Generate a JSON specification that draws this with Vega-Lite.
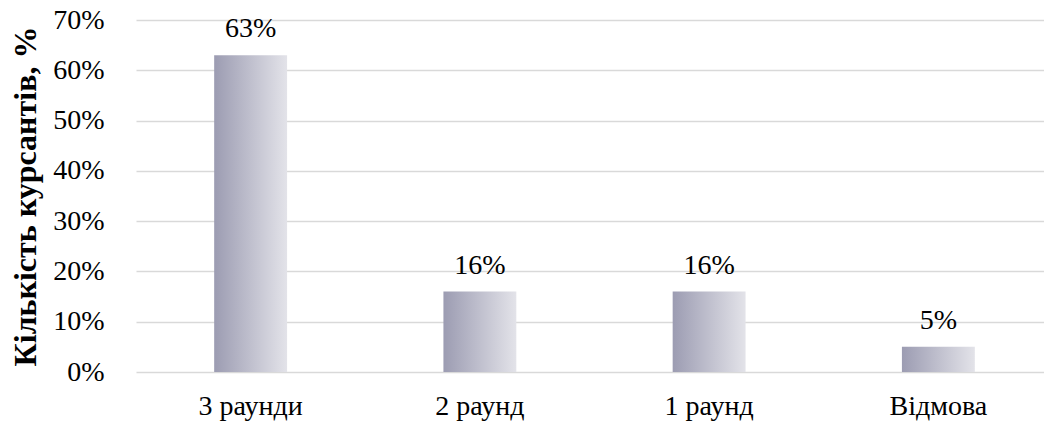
{
  "$schema": "https://vega.github.io/schema/vega-lite/v6.json",
  "autosize": {"type": "none"},
  "padding": {"left": 136, "top": 20, "right": 0, "bottom": 57},
  "width": 917,
  "height": 352,
  "background": "white",
  "data": {
    "values": [
      {"category": "3 раунди", "value": 63},
      {"category": "2 раунд", "value": 16},
      {"category": "1 раунд", "value": 16},
      {"category": "Відмова", "value": 5}
    ]
  },
  "config": {
    "view": {"stroke": null},
    "font": "Liberation Serif"
  },
  "encoding": {
    "x": {
      "field": "category",
      "type": "nominal",
      "sort": null,
      "scale": {"paddingInner": 0.682, "paddingOuter": 0.341},
      "axis": {
        "title": null,
        "labelAngle": 0,
        "labelFont": "Liberation Serif",
        "labelFontSize": 28,
        "labelColor": "#000000",
        "labelPadding": 20,
        "ticks": false,
        "domain": false
      }
    },
    "y": {
      "field": "value",
      "type": "quantitative",
      "scale": {"domain": [0, 70]},
      "axis": {
        "values": [0, 10, 20, 30, 40, 50, 60, 70],
        "labelExpr": "datum.value + '%'",
        "labelFont": "Liberation Serif",
        "labelFontSize": 28,
        "labelColor": "#000000",
        "labelPadding": 32,
        "ticks": false,
        "domain": false,
        "grid": true,
        "gridColor": "#d9d9d9",
        "gridWidth": 1.5,
        "title": "Кількість курсантів, %",
        "titleFont": "Liberation Serif",
        "titleFontSize": 32,
        "titleFontWeight": "bold",
        "titleColor": "#000000",
        "titlePadding": 10
      }
    }
  },
  "layer": [
    {
      "mark": {
        "type": "bar",
        "color": {
          "gradient": "linear",
          "x1": 0, "y1": 0, "x2": 1, "y2": 0,
          "stops": [
            {"offset": 0, "color": "#9c9cb2"},
            {"offset": 1, "color": "#e3e3e9"}
          ]
        }
      }
    },
    {
      "mark": {
        "type": "text",
        "baseline": "bottom",
        "dy": -12,
        "font": "Liberation Serif",
        "fontSize": 28,
        "color": "#000000"
      },
      "encoding": {
        "text": {"value": {"expr": "datum.value + '%'"}}
      }
    }
  ]
}
